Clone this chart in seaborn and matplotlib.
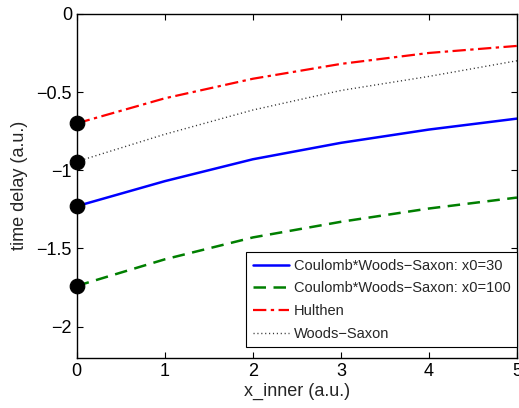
import matplotlib
matplotlib.use("Agg")
import matplotlib.pyplot as plt
import seaborn as sns
import pandas as pd

# ── Data ─────────────────────────────────────────────────
x_inner = [0, 1, 2, 3, 4, 5]
cws_30 = [-1.23, -1.07, -0.93, -0.825, -0.74, -0.67]
cws_100 = [-1.74, -1.57, -1.43, -1.33, -1.245, -1.175]
hulthen = [-0.70, -0.54, -0.415, -0.32, -0.25, -0.205]
woods_saxon = [-0.945, -0.77, -0.615, -0.49, -0.40, -0.30]

labels = ["Coulomb*Woods\u2212Saxon: x0=30", "Coulomb*Woods\u2212Saxon: x0=100",
          "Hulthen", "Woods\u2212Saxon"]
series = [cws_30, cws_100, hulthen, woods_saxon]
colors = ["#0000ff", "#007f00", "#ff0000", "#333333"]
styles = ["-", (0, (5, 3)), (0, (6, 2, 1.5, 2)), (0, (0.8, 2))]
widths = [1.8, 1.8, 1.6, 1.0]

sns.set_theme(style="ticks")
plt.rcParams["font.family"] = ["Liberation Sans", "DejaVu Sans"]

fig = plt.figure(figsize=(5.19, 4.08), dpi=100)
ax = fig.add_axes([0.148, 0.123, 0.848, 0.843])

for vals, lab, c, ls, lw in zip(series, labels, colors, styles, widths):
    df = pd.DataFrame({"x": x_inner, "y": vals})
    sns.lineplot(data=df, x="x", y="y", ax=ax, color=c, linestyle=ls,
                 linewidth=lw, label=lab)

# starting points at x=0
starts = pd.DataFrame({"x": [x_inner[0]] * 4, "y": [s[0] for s in series]})
sns.scatterplot(data=starts, x="x", y="y", ax=ax, color="black", s=110,
                edgecolor="black", zorder=5, clip_on=False, legend=False)

ax.set_xlim(0, 5)
ax.set_ylim(-2.2, 0)
ax.set_xticks([0, 1, 2, 3, 4, 5])
ax.set_yticks([-2, -1.5, -1, -0.5, 0])
ax.set_yticklabels(["\u22122", "\u22121.5", "\u22121", "\u22120.5", "0"])
ax.tick_params(direction="in", length=4, labelsize=13, top=True, right=True,
               width=0.8, colors="black")
for sp in ax.spines.values():
    sp.set_visible(True)
    sp.set_linewidth(1.0)
    sp.set_color("black")
ax.set_xlabel("x_inner (a.u.)", fontsize=13, labelpad=2)
ax.set_ylabel("time delay (a.u.)", fontsize=13, labelpad=6)

leg = ax.legend(loc="lower right", bbox_to_anchor=(1.0, 0.03), fontsize=10.5,
                frameon=True, fancybox=False, edgecolor="black",
                borderaxespad=0.0, handlelength=2.5, labelspacing=0.6,
                borderpad=0.45, handletextpad=0.3)
leg.get_frame().set_linewidth(0.8)
leg.get_frame().set_alpha(1)

fig.savefig("out.png", dpi=100)
